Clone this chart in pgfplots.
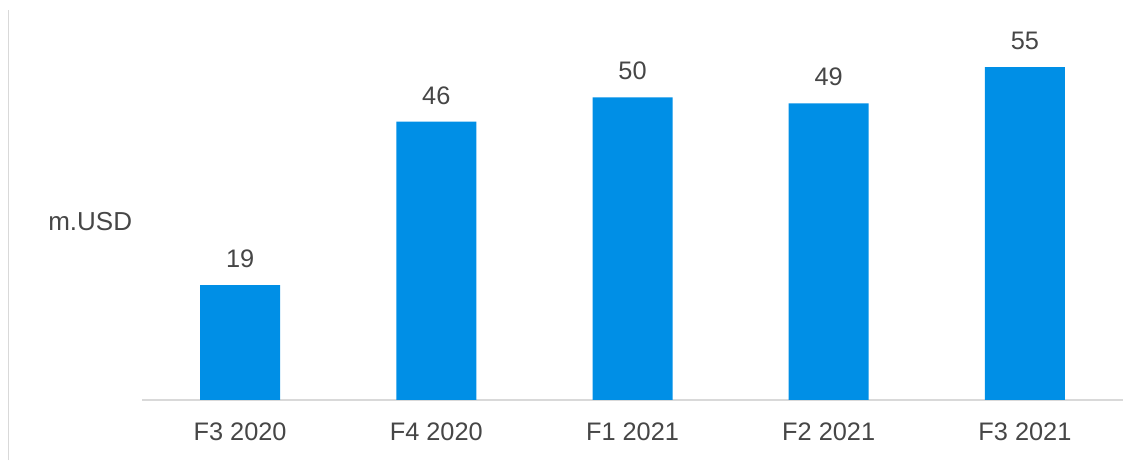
\documentclass[border=0pt]{standalone}
\usepackage{pgfplots}
\pgfplotsset{compat=1.18}
\usepackage{fontspec}
\setmainfont{Liberation Sans}
\definecolor{barblue}{RGB}{0,143,230}
\definecolor{txtgray}{RGB}{70,70,70}
\definecolor{linegray}{RGB}{217,217,217}
\begin{document}
\begin{tikzpicture}
\useasboundingbox (0,0) rectangle (842.25pt,345pt);
\draw[linegray, line width=0.75pt] (6pt,0) -- (6pt,337.5pt);
\node[anchor=base west, inner sep=0pt, text=txtgray, font=\fontsize{19.5}{22}\selectfont] at (36pt,172pt) {m.USD};
\begin{axis}[
    at={(106.5pt,45pt)}, anchor=south west,
    scale only axis,
    width=735.75pt, height=300pt,
    ybar, bar width=60pt,
    xmin=-0.5, xmax=4.5,
    ymin=0, ymax=66.1,
    axis y line=none,
    axis x line*=bottom,
    x axis line style={linegray, line width=1.1pt, -},
    xtick=data,
    xticklabels={F3 2020, F4 2020, F1 2021, F2 2021, F3 2021},
    major tick length=0pt,
    xticklabel style={inner sep=0pt, anchor=north, yshift=-17.25pt, text=txtgray, font=\fontsize{19}{22}\selectfont},
    nodes near coords,
    /pgf/number format/assume math mode=true,
    nodes near coords style={inner sep=0pt, anchor=south, yshift=12.75pt, text=txtgray, font=\fontsize{19}{22}\selectfont},
    clip=false,
]
\addplot[fill=barblue, draw=none] coordinates {(0,19) (1,46) (2,50) (3,49) (4,55)};
\end{axis}
\end{tikzpicture}
\end{document}
